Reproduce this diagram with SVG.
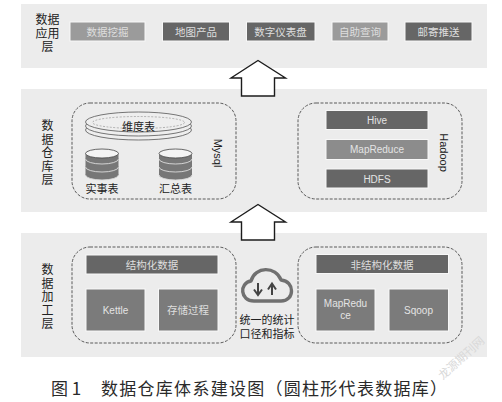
<svg xmlns="http://www.w3.org/2000/svg" width="502" height="402" viewBox="0 0 502 402">
<style>
text{font-family:"Liberation Sans","Noto Sans CJK SC",sans-serif;text-anchor:middle}
.band{fill:#ececec}
.dash{fill:none;stroke:#5a5a5a;stroke-width:1;stroke-dasharray:3 1.500}
.w{fill:#dedede;font-size:10.500px;font-family:"Noto Sans CJK SC",sans-serif}
.e{fill:#e4e4e4;font-size:10px}
.k{fill:#222;font-size:11px;font-family:"Noto Sans CJK SC",sans-serif}
.l{fill:#222;font-size:12px;font-family:"Noto Sans CJK SC",sans-serif}
.v{writing-mode:vertical-rl;letter-spacing:1.500px}
.d{fill:#666}.m{fill:#8c8c8c}.n{fill:#7b7b7b}
.box{stroke:#f7f7f7;stroke-width:1}
.arrow{fill:#fff;stroke:#1c1c1c;stroke-width:1.400}
.disk{fill:#777;stroke:#dcdcdc;stroke-width:.9}
.top{fill:#f4f4f4;stroke:#444;stroke-width:.8}
.plate{fill:#eeeeee;stroke:#555;stroke-width:.8}
</style>
<defs>
<g id="cyl">
<ellipse class="disk" cx="0" cy="26" rx="16.500" ry="5"/>
<rect x="-16.500" y="18" width="33" height="8" fill="#777"/>
<ellipse class="disk" cx="0" cy="18" rx="16.500" ry="5"/>
<rect x="-16.500" y="10" width="33" height="8" fill="#777"/>
<ellipse class="disk" cx="0" cy="10" rx="16.500" ry="5"/>
<rect x="-16.500" y="4.500" width="33" height="5.500" fill="#777"/>
<ellipse class="top" cx="0" cy="4.500" rx="16.500" ry="4.500"/>
</g>
</defs>
<rect width="502" height="402" fill="#fff"/>
<rect class="band" x="21" y="4" width="466" height="64"/>
<rect class="band" x="21" y="89" width="466" height="123"/>
<rect class="band" x="21" y="233" width="466" height="124"/>

<g id="connectors">
<path class="arrow" d="M258 60.500L231 78H241.500V96H274.500V78H285.500Z"/>
<path class="arrow" d="M258 204.500L231 222H241.500V240H274.500V222H285.500Z"/>
</g>

<g id="layer-app">
<text class="l"><tspan x="47.500" y="24">数据</tspan><tspan x="47.500" y="37.500">应用</tspan><tspan x="47.500" y="51">层</tspan></text>
</g>
<g id="n-mining"><rect class="box" x="70" y="22" width="75" height="19" fill="#9b9b9b"/><text class="w" x="107.500" y="36">数据挖掘</text></g>
<g id="n-map"><rect class="box" x="162.500" y="22" width="67" height="19" fill="#666"/><text class="w" x="196" y="36">地图产品</text></g>
<g id="n-dash"><rect class="box" x="246.500" y="22" width="68.500" height="19" fill="#666"/><text class="w" x="280.500" y="36">数字仪表盘</text></g>
<g id="n-query"><rect class="box" x="332" y="22" width="56" height="19" fill="#9b9b9b"/><text class="w" x="360" y="36">自助查询</text></g>
<g id="n-mail"><rect class="box" x="405" y="22" width="67" height="19" fill="#666"/><text class="w" x="438.500" y="36">邮寄推送</text></g>

<g id="layer-dw">
<text class="l v" x="47.500" y="153.500">数据仓库层</text>
</g>
<g id="mysql">
<rect class="dash" x="72" y="103" width="164" height="96" rx="18"/>
<ellipse class="plate" cx="138.500" cy="130" rx="53" ry="10"/>
<ellipse class="plate" cx="138.500" cy="126" rx="53" ry="10"/>
<ellipse class="plate" cx="138.500" cy="122" rx="53" ry="10"/>
<ellipse cx="138.500" cy="122.500" rx="46" ry="6" fill="none" stroke="#888" stroke-width=".6" stroke-dasharray="2 1.500"/>
<text class="k" x="138.500" y="131">维度表</text>
<use href="#cyl" x="102" y="149"/>
<use href="#cyl" x="175.500" y="149"/>
<text class="k" x="102" y="193">实事表</text>
<text class="k" x="175.500" y="193">汇总表</text>
<text x="217.500" y="153" font-size="11" fill="#222" transform="rotate(90 217.500 153)" dominant-baseline="central">Mysql</text>
</g>
<g id="hadoop">
<rect class="dash" x="298" y="103" width="164" height="96" rx="18"/>
<text x="443.500" y="152.500" font-size="11" fill="#222" transform="rotate(90 443.500 152.500)" dominant-baseline="central">Hadoop</text>
</g>
<g id="n-hive"><rect class="box d" x="326" y="110.500" width="102" height="19"/><text class="e" x="377" y="124">Hive</text></g>
<g id="n-mr"><rect class="box m" x="326" y="139.500" width="102" height="20"/><text class="e" x="377" y="153">MapReduce</text></g>
<g id="n-hdfs"><rect class="box d" x="326" y="169" width="102" height="19"/><text class="e" x="377" y="183">HDFS</text></g>

<g id="layer-etl">
<text class="l v" x="47.500" y="297.500">数据加工层</text>
</g>
<g id="structured">
<rect class="dash" x="72" y="247" width="164" height="96" rx="18"/>
<rect class="box d" x="86" y="255" width="132" height="19"/><text class="w" x="152" y="269">结构化数据</text>
<rect class="box n" x="86" y="289" width="59" height="42"/><text class="e" x="115.500" y="314">Kettle</text>
<rect class="box n" x="158.500" y="289" width="59.500" height="42"/><text class="w" x="188" y="314">存储过程</text>
</g>
<g id="unstructured">
<rect class="dash" x="298" y="247" width="164" height="96" rx="18"/>
<rect class="box d" x="316" y="254.500" width="132.500" height="19"/><text class="w" x="382" y="268.500">非结构化数据</text>
<rect class="box n" x="316" y="289" width="59" height="42"/><text class="e" x="345.500" y="307">MapRedu</text><text class="e" x="345.500" y="319">ce</text>
<rect class="box n" x="389" y="289" width="59.500" height="42"/><text class="e" x="418.500" y="314">Sqoop</text>
</g>
<g id="cloud">
<path d="M254 301C240 301 239 283 251 281C255 266 276 266 281 280C295 281 295 301 281 301Z" fill="none" stroke="#707070" stroke-width="3.400" stroke-linejoin="round"/>
<path d="M258 283V294M254 289.500L258 295L262 289.500M272 295V284M268 289.500L272 283.500L276 289.500" fill="none" stroke="#444" stroke-width="2"/>
<text class="k" x="267" y="323.500">统一的统计</text>
<text class="k" x="267" y="338">口径和指标</text>
</g>
<g id="caption" fill="#2a2a2a" font-size="17">
<text x="66" y="395" style="font-family:'Noto Sans CJK SC',sans-serif">图 1</text>
<text x="274" y="395" textLength="346" lengthAdjust="spacing" style="font-family:'Noto Sans CJK SC',sans-serif">数据仓库体系建设图（圆柱形代表数据库）</text>
</g>
<text x="464" y="361" font-size="11.500" fill="#d9d9d9" transform="rotate(-42 464 361)">龙源期刊网</text>
</svg>
